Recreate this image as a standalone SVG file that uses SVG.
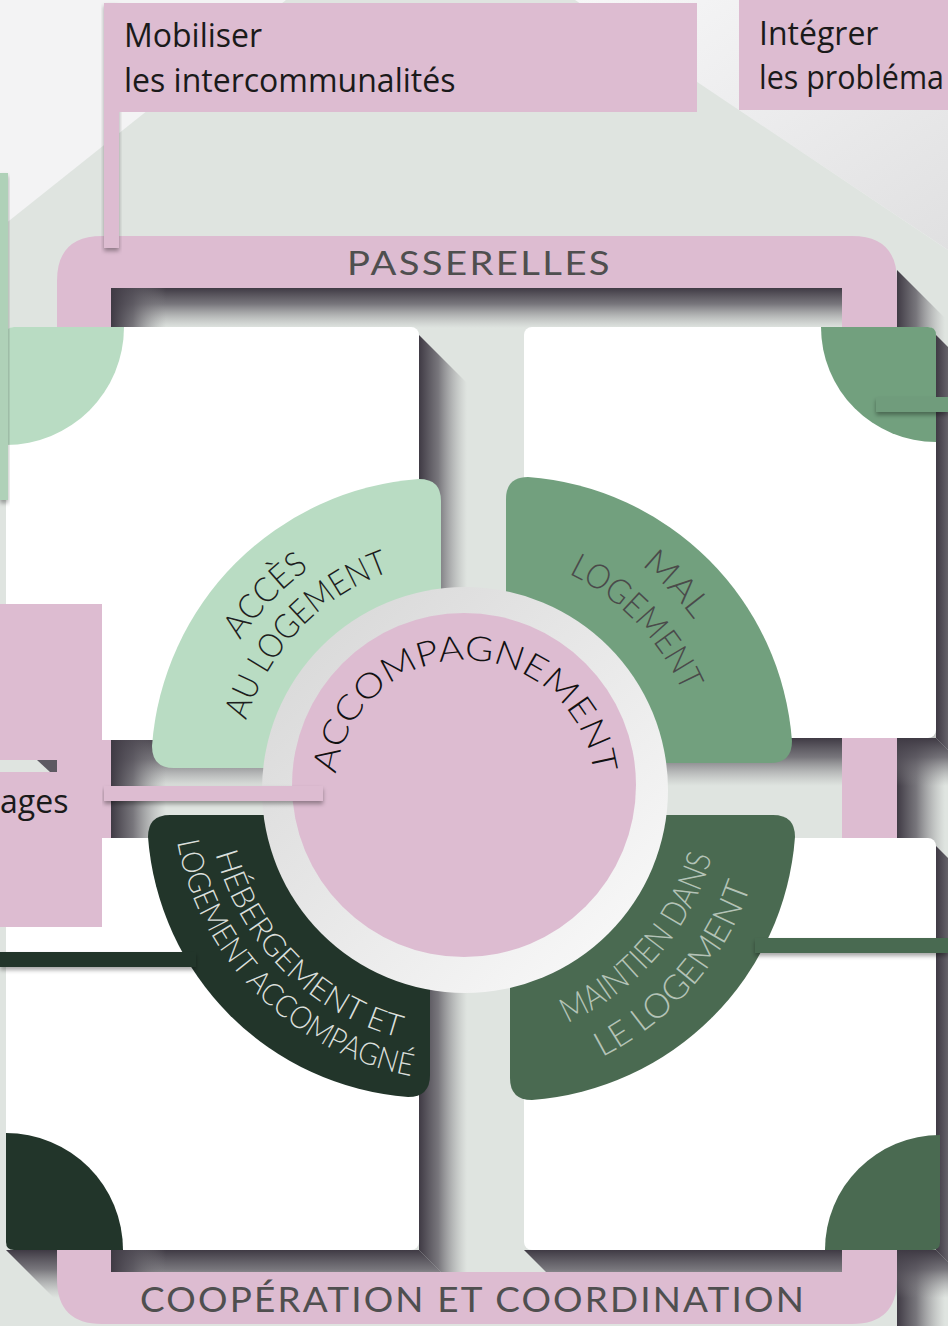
<svg xmlns="http://www.w3.org/2000/svg" width="948" height="1326" viewBox="0 0 948 1326">
<defs>
<style>
.pink{fill:#ddbcd1}
.sq{fill:#ffffff}
.box-text{font-family:"Open Sans","Liberation Sans",sans-serif;font-size:32px;fill:#1a1a1a}
.band-text{font-family:Lato,"Liberation Sans",sans-serif;fill:#4f4f4f;letter-spacing:2px}
.lbl{font-family:Lato,"DejaVu Sans",sans-serif;font-weight:300}
.bar{filter:url(#ds)}
</style>
<filter id="ds" x="-20%" y="-50%" width="140%" height="200%">
<feDropShadow dx="0" dy="3" stdDeviation="2" flood-color="#000" flood-opacity="0.35"/>
</filter>
<linearGradient id="shR" x1="0" y1="0" x2="1" y2="0">
<stop offset="0" stop-color="#3f3a44" stop-opacity="1"/>
<stop offset="0.4" stop-color="#55515a" stop-opacity="0.75"/>
<stop offset="1" stop-color="#8a888c" stop-opacity="0"/>
</linearGradient>
<linearGradient id="shB" x1="0" y1="0" x2="0" y2="1">
<stop offset="0" stop-color="#3f3a44" stop-opacity="1"/>
<stop offset="0.4" stop-color="#55515a" stop-opacity="0.75"/>
<stop offset="1" stop-color="#8a888c" stop-opacity="0"/>
</linearGradient>
<linearGradient id="ringG" x1="0" y1="0" x2="1" y2="1">
<stop offset="0" stop-color="#d5d5d5"/>
<stop offset="1" stop-color="#fcfcfc"/>
</linearGradient>
<linearGradient id="lightR" x1="0" y1="0" x2="1" y2="1">
<stop offset="0" stop-color="#f7f7f8"/>
<stop offset="1" stop-color="#e0e0e1"/>
</linearGradient>
<path id="pTL1" d="M196,788 A269 269 0 0 1 455.6,519.2"/>
<path id="pTL2" d="M236,788 A229 229 0 0 1 457,559.1"/>
<path id="pTR1" d="M474.9,504.2 A284 284 0 0 1 749,788"/>
<path id="pTR2" d="M473.3,550.1 A238 238 0 0 1 703,788"/>
<path id="pBL1" d="M207,788 A258 258 0 0 0 465,1046"/>
<path id="pBL2" d="M172,788 A293 293 0 0 0 465,1081"/>
<path id="pBR1" d="M482.9,1043.4 A256 256 0 0 0 720.4,770.1"/>
<path id="pBR2" d="M486.1,1089.3 A302 302 0 0 0 766.3,766.9"/>
<path id="pC" d="M335,790 A130 130 0 0 1 595,790"/>
</defs>

<g id="background">
<rect width="948" height="1326" fill="#f3f3f4"/>
<polygon points="575,0 948,0 948,250" fill="url(#lightR)"/>
<polygon points="0,228 286,0 575,0 948,250 948,1326 0,1326" fill="#dfe4e0"/>
</g>

<g id="shadows">
<polygon points="897,270 945,318 945,1326 897,1326" fill="url(#shR)"/>
<polygon points="419,335 467,383 467,788 419,740" fill="url(#shR)"/>
<polygon points="6,740 419,740 467,788 54,788" fill="url(#shB)"/>
<polygon points="936,335 984,383 984,786 936,738" fill="url(#shR)"/>
<polygon points="524,738 936,738 984,786 572,786" fill="url(#shB)"/>
<polygon points="419,846 467,894 467,1298 419,1250" fill="url(#shR)"/>
<polygon points="6,1250 419,1250 467,1298 54,1298" fill="url(#shB)"/>
<polygon points="936,846 984,894 984,1298 936,1250" fill="url(#shR)"/>
<polygon points="524,1250 936,1250 984,1298 572,1298" fill="url(#shB)"/>
</g>

<g id="frame">
<path class="pink" fill-rule="evenodd" d="M102,236 H852 Q897,236 897,281 V1279 Q897,1324 852,1324 H102 Q57,1324 57,1279 V281 Q57,236 102,236 Z M111,288 V1272 H842 V288 Z"/>
<rect x="111" y="288" width="731" height="40" fill="url(#shB)"/>
<rect x="111" y="288" width="55" height="984" fill="url(#shR)"/>
<text class="band-text" x="347" y="275" font-size="32" textLength="265" lengthAdjust="spacingAndGlyphs">PASSERELLES</text>
<text class="band-text" x="140" y="1312" font-size="34" textLength="666" lengthAdjust="spacingAndGlyphs">COOPÉRATION ET COORDINATION</text>
</g>

<g id="square-tl">
<rect class="sq" x="6" y="327" width="413" height="413" rx="8"/>
<path d="M6,335 Q6,327 14,327 L124,327 A118 118 0 0 1 6,445 Z" fill="#b9dcc3"/>
</g>
<g id="square-tr">
<rect class="sq" x="524" y="327" width="412" height="411" rx="8"/>
<path d="M821,327 L928,327 Q936,327 936,335 L936,442 A115 115 0 0 1 821,327 Z" fill="#72a07e"/>
</g>
<g id="square-bl">
<rect class="sq" x="6" y="838" width="413" height="412" rx="8"/>
<path d="M6,1133 A117 117 0 0 1 123,1250 L14,1250 Q6,1250 6,1242 Z" fill="#22352a"/>
</g>
<g id="square-br">
<rect class="sq" x="524" y="838" width="412" height="412" rx="8"/>
<path d="M825,1250 A115 115 0 0 1 940,1135 L940,1242 Q940,1250 932,1250 Z" fill="#4a6a51"/>
</g>

<g id="sector-acces">
<path d="M441,768 L174,768 Q152,768 152,746 A289 289 0 0 1 419,479 Q441,479 441,501 Z" fill="#b9dcc3"/>
<text class="lbl" font-size="34" fill="#1e1e1e"><textPath href="#pTL1" startOffset="50%" text-anchor="middle" textLength="100" lengthAdjust="spacingAndGlyphs">ACCÈS</textPath><textPath href="#pTL2" startOffset="50%" text-anchor="middle" textLength="214" lengthAdjust="spacingAndGlyphs">AU LOGEMENT</textPath></text>
</g>
<g id="sector-mal">
<path d="M506,763 L506,499 Q506,477 528,477 A286 286 0 0 1 792,741 Q792,763 770,763 Z" fill="#72a07e"/>
<text class="lbl" font-size="34" fill="#4a4a4a"><textPath href="#pTR1" startOffset="50%" text-anchor="middle" textLength="76" lengthAdjust="spacingAndGlyphs">MAL</textPath><textPath href="#pTR2" startOffset="50%" text-anchor="middle" textLength="168" lengthAdjust="spacingAndGlyphs">LOGEMENT</textPath></text>
</g>
<g id="sector-hebergement">
<path d="M430,815 L170,815 Q148,815 148,837 A282 282 0 0 0 408,1097 Q430,1097 430,1075 Z" fill="#22352a"/>
<text class="lbl" font-size="31" font-weight="400" fill="#dadfdb"><textPath href="#pBL1" startOffset="50%" text-anchor="middle" textLength="272" lengthAdjust="spacingAndGlyphs">HÉBERGEMENT ET</textPath><textPath href="#pBL2" startOffset="50%" text-anchor="middle" textLength="352" lengthAdjust="spacingAndGlyphs">LOGEMENT ACCOMPAGNÉ</textPath></text>
</g>
<g id="sector-maintien">
<path d="M510,815 L773,815 Q795,815 795,837 A285 285 0 0 1 532,1100 Q510,1100 510,1078 Z" fill="#4a6a51"/>
<text class="lbl" font-size="34" fill="#b4c3b7"><textPath href="#pBR1" startOffset="50%" text-anchor="middle" textLength="228" lengthAdjust="spacingAndGlyphs">MAINTIEN DANS</textPath><textPath href="#pBR2" startOffset="50%" text-anchor="middle" textLength="232" lengthAdjust="spacingAndGlyphs">LE LOGEMENT</textPath></text>
</g>

<g id="accompagnement">
<circle cx="465" cy="790" r="203" fill="url(#ringG)"/>
<circle class="pink" cx="464" cy="785" r="172"/>
<text class="lbl" font-size="34" fill="#111111"><textPath href="#pC" startOffset="50%" text-anchor="middle" textLength="376" lengthAdjust="spacingAndGlyphs">ACCOMPAGNEMENT</textPath></text>
</g>

<g id="connectors">
<rect class="bar" x="0" y="173" width="8" height="327" fill="#afd1b8"/>
<rect class="bar pink" x="104" y="3" width="15" height="245"/>
<rect class="bar pink" x="104" y="786" width="219" height="15"/>
<rect class="bar" x="876" y="397" width="72" height="15" fill="#6f9c7b"/>
<rect class="bar" x="755" y="938" width="193" height="15" fill="#4a6a51"/>
<rect class="bar" x="0" y="952" width="196" height="15" fill="#22352a"/>
</g>

<g id="box-mobiliser">
<rect class="pink" x="104" y="3" width="593" height="109"/>
<text class="box-text" x="124" y="47">Mobiliser</text>
<text class="box-text" x="124" y="92">les intercommunalités</text>
</g>
<g id="box-integrer">
<rect class="pink" x="739" y="0" width="209" height="110"/>
<text class="box-text" x="759" y="45">Intégrer</text>
<text class="box-text" x="759" y="89" textLength="185" lengthAdjust="spacingAndGlyphs">les probléma</text>
</g>
<g id="box-left">
<rect class="pink" x="0" y="604" width="102" height="323"/>
<rect x="0" y="760" width="57" height="12" fill="#dfe4e0"/>
<polygon points="37,760 57,760 57,772 50,772" fill="#5d5962"/>
<text class="box-text" x="0" y="813">ages</text>
</g>
</svg>
